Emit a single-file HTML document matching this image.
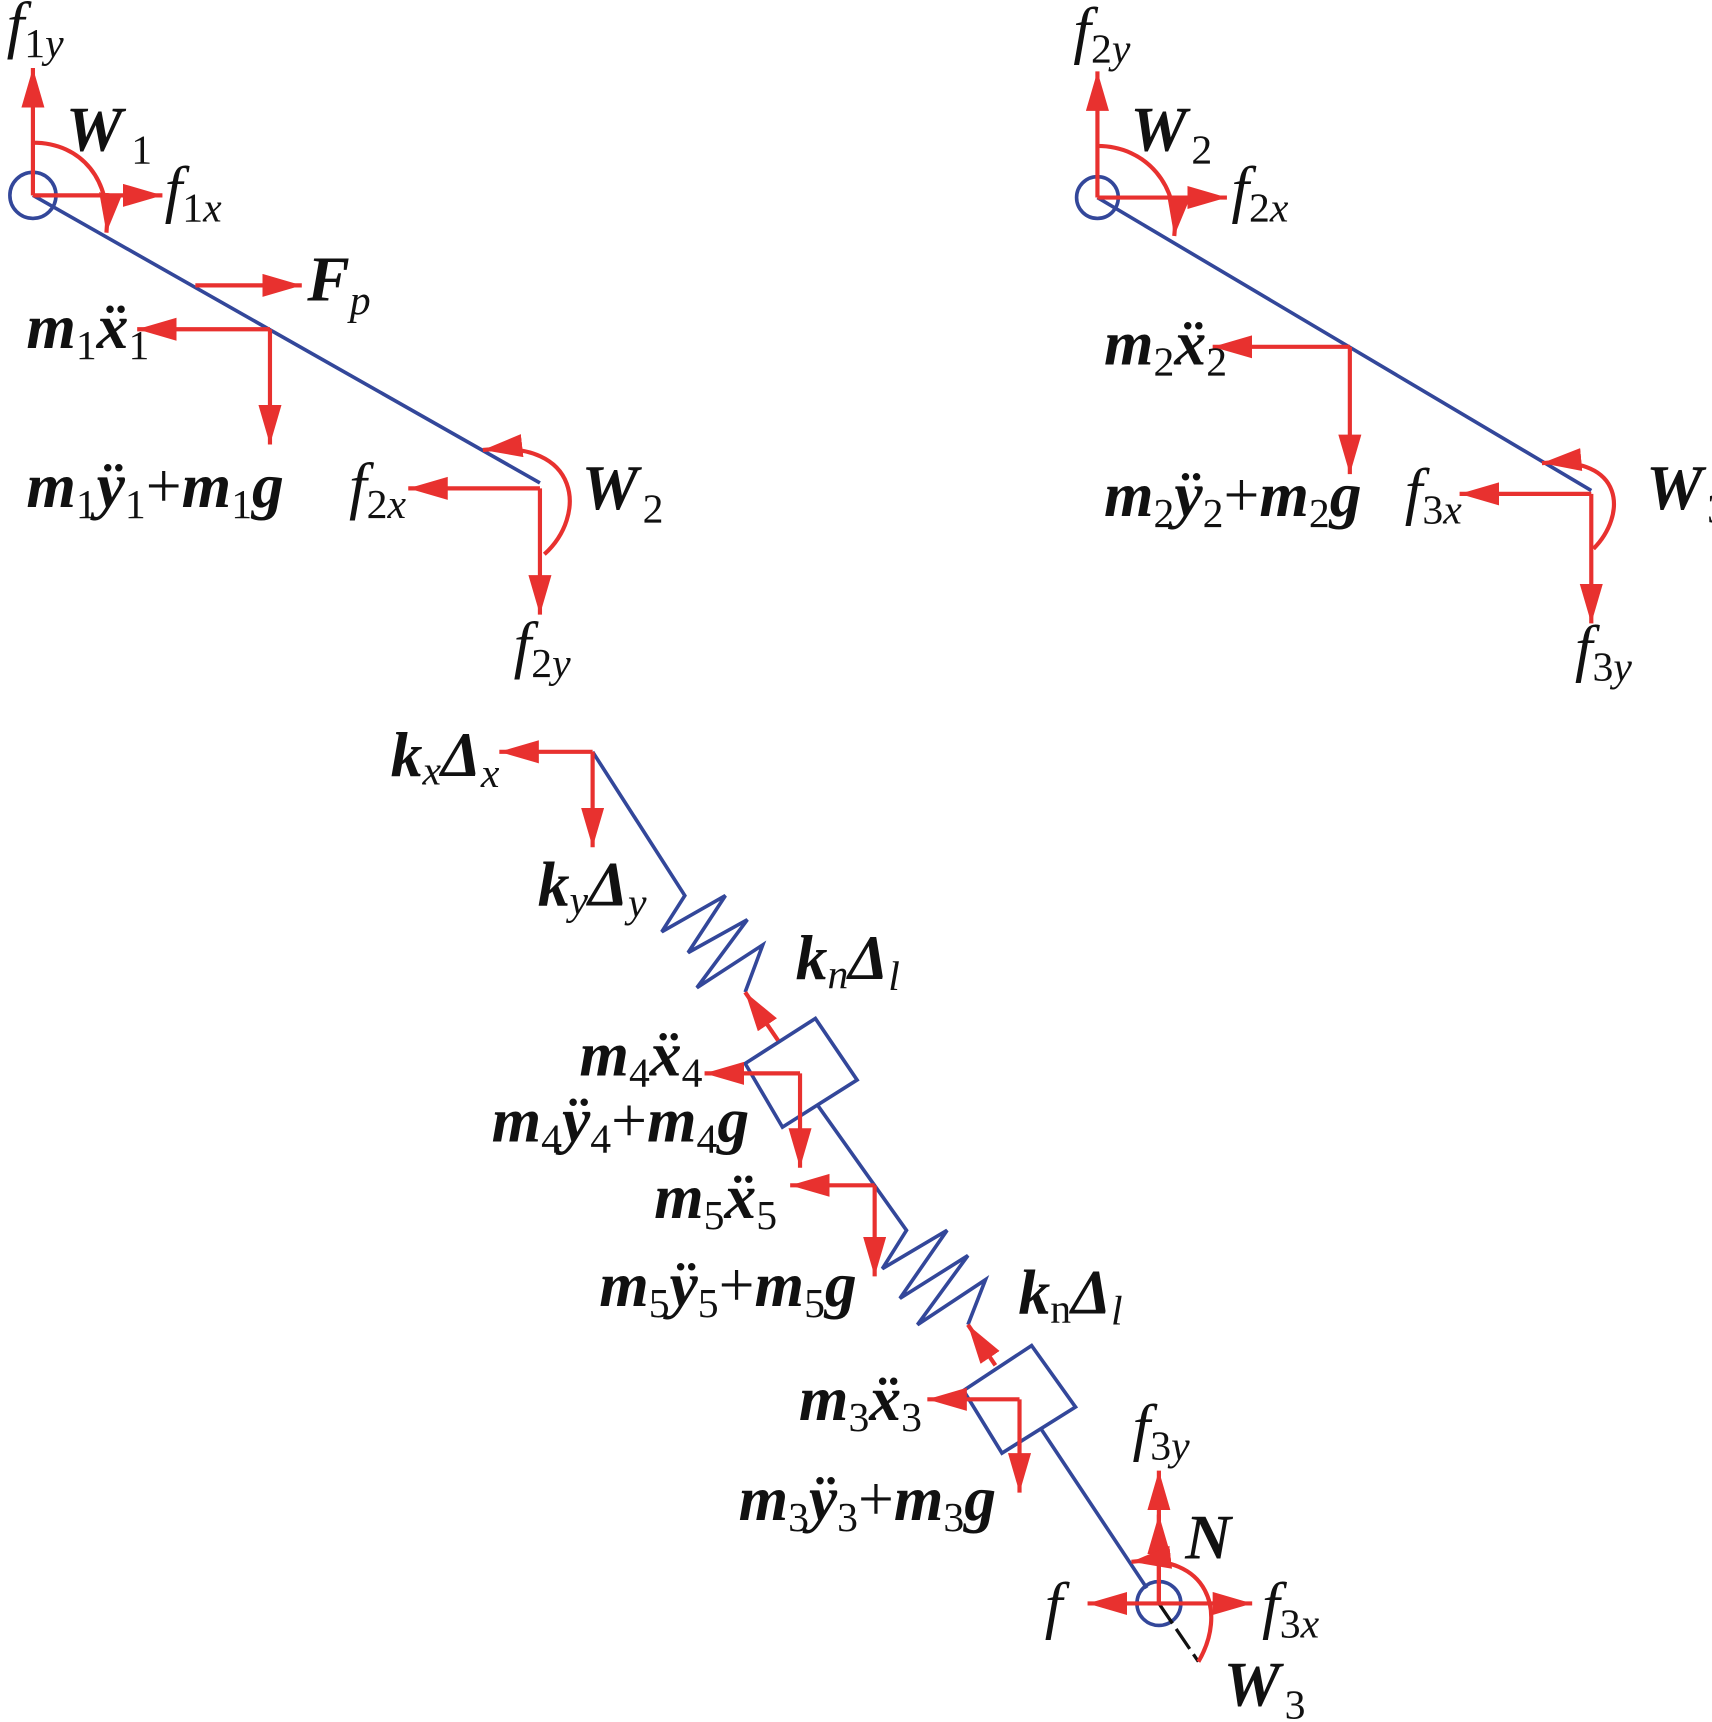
<!DOCTYPE html>
<html><head><meta charset="utf-8"><style>
html,body{margin:0;padding:0;background:#fff}
svg{display:block}
text{font-family:"Liberation Serif",serif;font-style:italic;font-size:58px;fill:#111}
.b{font-weight:bold}
.s{font-size:38px;font-style:normal}
.si{font-size:38px;font-style:italic}
.r{stroke:#e8312f;stroke-width:3.8;fill:none}
.bl{stroke:#33479a;stroke-width:3.3;fill:none}
</style></head><body>
<svg width="1712" height="1722" viewBox="0 0 1560 1569" preserveAspectRatio="none" xmlns="http://www.w3.org/2000/svg">
<defs>
<marker id="a" markerUnits="userSpaceOnUse" markerWidth="40" markerHeight="24" refX="36" refY="10.5" orient="auto"><path d="M0,0 L36,10.5 L0,21 z" fill="#e8312f"/></marker>
</defs>

<!-- TOP LEFT -->
<line class="bl" x1="30" y1="178" x2="492" y2="440"/>
<circle class="bl" cx="30" cy="178" r="21"/>
<line class="r" x1="30" y1="178" x2="30" y2="62" marker-end="url(#a)"/>
<line class="r" x1="30" y1="178" x2="148" y2="178" marker-end="url(#a)"/>
<path class="r" d="M30,130 C75,130 102,165 97,212" marker-end="url(#a)"/>
<line class="r" x1="178" y1="260" x2="275" y2="260" marker-end="url(#a)"/>
<line class="r" x1="246" y1="300" x2="125" y2="300" marker-end="url(#a)"/>
<line class="r" x1="246" y1="300" x2="246" y2="405" marker-end="url(#a)"/>
<line class="r" x1="492" y1="445" x2="372" y2="445" marker-end="url(#a)"/>
<line class="r" x1="492" y1="445" x2="492" y2="560" marker-end="url(#a)"/>
<path class="r" d="M496,505 C535,470 530,400 440,410" marker-end="url(#a)"/>
<text x="6" y="42">f<tspan class="s" dy="10">1</tspan><tspan class="si">y</tspan></text>
<text x="60" y="137" class="b">W<tspan class="s" dy="12" font-weight="normal" dx="8">1</tspan></text>
<text x="150" y="192">f<tspan class="s" dy="10">1</tspan><tspan class="si">x</tspan></text>
<text x="280" y="274" class="b">F<tspan class="si" dy="12" font-weight="normal">p</tspan></text>
<text x="24" y="317" class="b">m<tspan class="s" dy="10" font-weight="normal">1</tspan><tspan dy="-10">ẍ</tspan><tspan class="s" dy="10" font-weight="normal">1</tspan></text>
<text x="24" y="462" class="b">m<tspan class="s" dy="10" font-weight="normal">1</tspan><tspan dy="-10">ÿ</tspan><tspan class="s" dy="10" font-weight="normal">1</tspan><tspan dy="-10" font-weight="normal" font-style="normal">+</tspan>m<tspan class="s" dy="10" font-weight="normal">1</tspan><tspan dy="-10">g</tspan></text>
<text x="318" y="462">f<tspan class="s" dy="10">2</tspan><tspan class="si">x</tspan></text>
<text x="530" y="464" class="b">W<tspan class="s" dy="12" font-weight="normal" dx="4">2</tspan></text>
<text x="468" y="607">f<tspan class="s" dy="10">2</tspan><tspan class="si">y</tspan></text>

<!-- TOP RIGHT -->
<line class="bl" x1="1000" y1="180" x2="1450" y2="447"/>
<circle class="bl" cx="1000" cy="180" r="19"/>
<line class="r" x1="1000" y1="180" x2="1000" y2="65" marker-end="url(#a)"/>
<line class="r" x1="1000" y1="180" x2="1118" y2="180" marker-end="url(#a)"/>
<path class="r" d="M1000,133 C1045,133 1075,170 1070,215" marker-end="url(#a)"/>
<line class="r" x1="1230" y1="316" x2="1105" y2="316" marker-end="url(#a)"/>
<line class="r" x1="1230" y1="316" x2="1230" y2="432" marker-end="url(#a)"/>
<line class="r" x1="1450" y1="450" x2="1330" y2="450" marker-end="url(#a)"/>
<line class="r" x1="1450" y1="450" x2="1450" y2="568" marker-end="url(#a)"/>
<path class="r" d="M1452,500 C1482,470 1482,415 1405,422" marker-end="url(#a)"/>
<text x="978" y="47">f<tspan class="s" dy="10">2</tspan><tspan class="si">y</tspan></text>
<text x="1030" y="137" class="b">W<tspan class="s" dy="12" font-weight="normal" dx="4">2</tspan></text>
<text x="1122" y="192">f<tspan class="s" dy="10">2</tspan><tspan class="si">x</tspan></text>
<text x="1006" y="332" class="b">m<tspan class="s" dy="10" font-weight="normal">2</tspan><tspan dy="-10">ẍ</tspan><tspan class="s" dy="10" font-weight="normal">2</tspan></text>
<text x="1006" y="470" class="b">m<tspan class="s" dy="10" font-weight="normal">2</tspan><tspan dy="-10">ÿ</tspan><tspan class="s" dy="10" font-weight="normal">2</tspan><tspan dy="-10" font-weight="normal" font-style="normal">+</tspan>m<tspan class="s" dy="10" font-weight="normal">2</tspan><tspan dy="-10">g</tspan></text>
<text x="1280" y="467">f<tspan class="s" dy="10">3</tspan><tspan class="si">x</tspan></text>
<text x="1500" y="464" class="b">W<tspan class="s" dy="12" font-weight="normal" dx="4">3</tspan></text>
<text x="1435" y="610">f<tspan class="s" dy="10">3</tspan><tspan class="si">y</tspan></text>

<!-- BOTTOM -->
<polyline class="bl" points="540,685 624,816 603,849 661,816 627,868 681,838 635,900 695,861 679,904"/>
<polygon class="bl" points="679,969 743,928 781,984 713,1027"/>
<polyline class="bl" points="745,1007 826,1121 804,1156 863,1121 820,1183 882,1144 836,1207 898,1166 882,1207"/>
<polygon class="bl" points="878,1267 940,1226 980,1282 913,1324"/>
<line class="bl" x1="948" y1="1301" x2="1045" y2="1447"/>
<circle class="bl" cx="1056" cy="1461" r="20"/>
<line x1="1056" y1="1461" x2="1092" y2="1514" stroke="#111" stroke-width="3" stroke-dasharray="22,6"/>

<line class="r" x1="540" y1="685" x2="455" y2="685" marker-end="url(#a)"/>
<line class="r" x1="540" y1="685" x2="540" y2="772" marker-end="url(#a)"/>
<line class="r" x1="709" y1="948" x2="679" y2="904" marker-end="url(#a)"/>
<line class="r" x1="729" y1="978" x2="642" y2="978" marker-end="url(#a)"/>
<line class="r" x1="729" y1="978" x2="729" y2="1064" marker-end="url(#a)"/>
<line class="r" x1="797" y1="1080" x2="720" y2="1080" marker-end="url(#a)"/>
<line class="r" x1="797" y1="1080" x2="797" y2="1163" marker-end="url(#a)"/>
<line class="r" x1="907" y1="1244" x2="882" y2="1207" marker-end="url(#a)"/>
<line class="r" x1="929" y1="1275" x2="845" y2="1275" marker-end="url(#a)"/>
<line class="r" x1="929" y1="1275" x2="929" y2="1360" marker-end="url(#a)"/>
<line class="r" x1="1056" y1="1461" x2="1056" y2="1340" marker-end="url(#a)"/>
<line class="r" x1="1056" y1="1461" x2="1056" y2="1380" marker-end="url(#a)"/>
<line class="r" x1="1056" y1="1461" x2="991" y2="1461" marker-end="url(#a)"/>
<line class="r" x1="1056" y1="1461" x2="1141" y2="1461" marker-end="url(#a)"/>
<path class="r" d="M1092,1514 C1118,1470 1102,1415 1031,1423" marker-end="url(#a)"/>

<text x="356" y="707" class="b">k<tspan class="si" dy="8" font-weight="normal">x</tspan><tspan dy="-8">Δ</tspan><tspan class="si" dy="10" font-weight="normal">x</tspan></text>
<text x="490" y="825" class="b">k<tspan class="si" dy="8" font-weight="normal">y</tspan><tspan dy="-8">Δ</tspan><tspan class="si" dy="10" font-weight="normal">y</tspan></text>
<text x="725" y="892" class="b">k<tspan class="si" dy="8" font-weight="normal">n</tspan><tspan dy="-8">Δ</tspan><tspan class="si" dy="10" font-weight="normal">l</tspan></text>
<text x="528" y="980" class="b">m<tspan class="s" dy="10" font-weight="normal">4</tspan><tspan dy="-10">ẍ</tspan><tspan class="s" dy="10" font-weight="normal">4</tspan></text>
<text x="448" y="1040" class="b">m<tspan class="s" dy="10" font-weight="normal">4</tspan><tspan dy="-10">ÿ</tspan><tspan class="s" dy="10" font-weight="normal">4</tspan><tspan dy="-10" font-weight="normal" font-style="normal">+</tspan>m<tspan class="s" dy="10" font-weight="normal">4</tspan><tspan dy="-10">g</tspan></text>
<text x="596" y="1110" class="b">m<tspan class="s" dy="10" font-weight="normal">5</tspan><tspan dy="-10">ẍ</tspan><tspan class="s" dy="10" font-weight="normal">5</tspan></text>
<text x="546" y="1190" class="b">m<tspan class="s" dy="10" font-weight="normal">5</tspan><tspan dy="-10">ÿ</tspan><tspan class="s" dy="10" font-weight="normal">5</tspan><tspan dy="-10" font-weight="normal" font-style="normal">+</tspan>m<tspan class="s" dy="10" font-weight="normal">5</tspan><tspan dy="-10">g</tspan></text>
<text x="928" y="1197" class="b">k<tspan class="s" dy="8" font-weight="normal">n</tspan><tspan dy="-8">Δ</tspan><tspan class="si" dy="10" font-weight="normal">l</tspan></text>
<text x="728" y="1294" class="b">m<tspan class="s" dy="10" font-weight="normal">3</tspan><tspan dy="-10">ẍ</tspan><tspan class="s" dy="10" font-weight="normal">3</tspan></text>
<text x="673" y="1385" class="b">m<tspan class="s" dy="10" font-weight="normal">3</tspan><tspan dy="-10">ÿ</tspan><tspan class="s" dy="10" font-weight="normal">3</tspan><tspan dy="-10" font-weight="normal" font-style="normal">+</tspan>m<tspan class="s" dy="10" font-weight="normal">3</tspan><tspan dy="-10">g</tspan></text>
<text x="1032" y="1320">f<tspan class="s" dy="10">3</tspan><tspan class="si">y</tspan></text>
<text x="1080" y="1420" class="b">N</text>
<text x="952" y="1482">f</text>
<text x="1150" y="1482">f<tspan class="s" dy="10">3</tspan><tspan class="si">x</tspan></text>
<text x="1115" y="1554" class="b">W<tspan class="s" dy="12" font-weight="normal" dx="4">3</tspan></text>
</svg>
</body></html>
